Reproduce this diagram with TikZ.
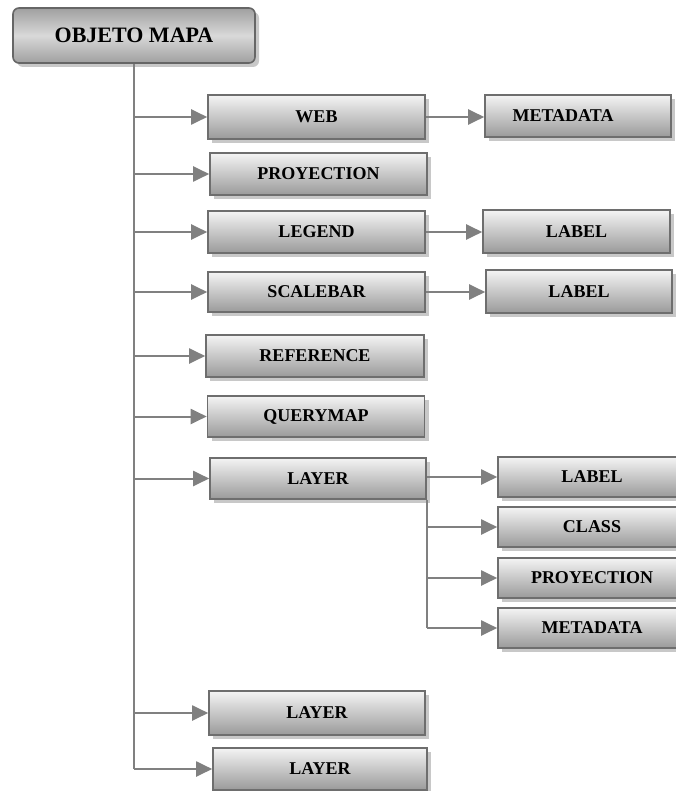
\documentclass[tikz,border=0pt]{standalone}
\usepackage{fontspec}
\setmainfont{Liberation Serif}
\usetikzlibrary{arrows.meta, shadows, positioning}
\definecolor{MAPline}{HTML}{808080}
\definecolor{MAPedge}{HTML}{6E6E6E}
\definecolor{MAPdark}{HTML}{9A9A9A}
\definecolor{MAPlight}{HTML}{F4F4F4}
\definecolor{MAPshadow}{HTML}{C8C8C8}
\tikzset{
   objbox/.style={draw=MAPedge, line width=1.6pt, top color=MAPlight, bottom color=MAPdark,
      minimum width=217pt, minimum height=42pt, inner sep=0pt,
      font=\fontsize{18}{20}\selectfont\bfseries,
      drop shadow={shadow xshift=4pt, shadow yshift=-4pt, fill=MAPshadow, opacity=1}},
   rootbox/.style={objbox, rounded corners=6pt, top color=gray!75, bottom color=gray!75,
      middle color=gray!30, draw=gray!80!black, minimum width=242pt, minimum height=55pt,
      font=\fontsize{22}{24}\selectfont\bfseries},
   link/.style={draw=MAPline, line width=2pt},
   arr/.style={link, -{Triangle[length=16pt, width=15pt]}}
}
\begin{document}
\begin{tikzpicture}[x=1pt, y=-1pt]
   \useasboundingbox (0,0) rectangle (675,791);
   % Root object
   \node[rootbox] (mapa) at (134,35.5) {OBJETO MAPA};
   % First level
   \node[objbox, minimum height=44pt] (web) at (316.5,117) {WEB};
   \node[objbox] (proy) at (318.5,174) {PROYECTION};
   \node[objbox] (legend) at (316.5,232) {LEGEND};
   \node[objbox, minimum height=40pt] (scalebar) at (316.5,292) {SCALEBAR};
   \node[objbox, minimum width=218pt] (reference) at (315,356) {REFERENCE};
   \node[objbox, minimum height=41pt] (querymap) at (316,416.5) {QUERYMAP};
   \node[objbox, minimum width=216pt, minimum height=41pt] (layer) at (318,478.5) {LAYER};
   \node[objbox, minimum width=216pt, minimum height=44pt] (layerb) at (317,713) {LAYER};
   \node[objbox, minimum width=214pt] (layerc) at (320,769) {LAYER};
   % Second level
   \node[objbox, minimum width=186pt] (webmeta) at (578,116) {\hspace*{-30pt}METADATA};
   \node[objbox, minimum width=187pt, minimum height=43pt] (leglabel) at (576.5,231.5) {LABEL};
   \node[objbox, minimum width=186pt, minimum height=43pt] (scalelabel) at (579,291.5) {LABEL};
   \node[objbox, minimum width=188pt, minimum height=40pt] (lylabel) at (592,477) {LABEL};
   \node[objbox, minimum width=188pt, minimum height=40pt] (lyclass) at (592,527) {CLASS};
   \node[objbox, minimum width=188pt, minimum height=40pt] (lyproy) at (592,578) {PROYECTION};
   \node[objbox, minimum width=188pt, minimum height=40pt] (lymeta) at (592,628) {METADATA};
   % Main trunk
   \draw[link] (mapa.south) -- (mapa.south |- layerc.west);
   \foreach \n in {web, proy, legend, scalebar, reference, querymap, layer, layerb, layerc}
      \draw[arr] (mapa.south |- \n.west) -- (\n.west);
   % Side links
   \draw[arr] (web.east) -- (web.east -| webmeta.west);
   \draw[arr] (legend.east) -- (legend.east -| leglabel.west);
   \draw[arr] (scalebar.east) -- (scalebar.east -| scalelabel.west);
   % Layer sub-trunk
   \draw[link] (layer.south east) -- (layer.south east |- lymeta.west);
   \foreach \n in {lylabel, lyclass, lyproy, lymeta}
      \draw[arr] (layer.east |- \n.west) -- (\n.west);
\end{tikzpicture}
\end{document}
